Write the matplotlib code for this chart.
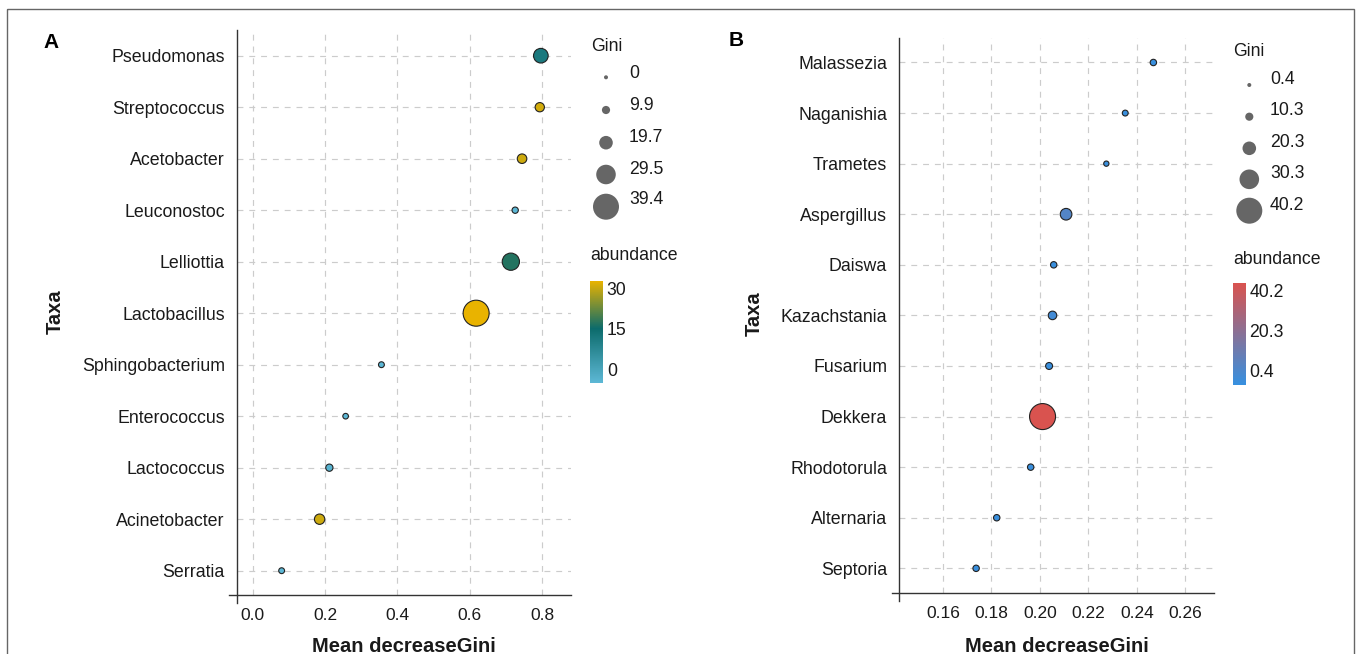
import matplotlib
matplotlib.use('Agg')
import matplotlib.pyplot as plt
import numpy as np
from matplotlib.colors import LinearSegmentedColormap, Normalize
from matplotlib.cm import ScalarMappable
from matplotlib.patches import Rectangle

plt.rcParams['font.family'] = ['Liberation Sans', 'DejaVu Sans']

W, H, DPI = 1358, 654, 100

# ---------------- data ----------------
taxa_a = ["Pseudomonas", "Streptococcus", "Acetobacter", "Leuconostoc", "Lelliottia",
          "Lactobacillus", "Sphingobacterium", "Enterococcus", "Lactococcus",
          "Acinetobacter", "Serratia"]
mdg_a = [0.797, 0.794, 0.745, 0.726, 0.714, 0.618, 0.356, 0.257, 0.212, 0.185, 0.080]
gini_a = [21.5, 12.0, 12.5, 6.0, 25.8, 39.4, 5.0, 4.5, 8.0, 14.0, 5.0]
abund_a = [11.5, 31.0, 30.5, -5.0, 17.0, 32.8, -5.0, -5.0, -4.0, 30.5, -5.0]
xticks_a = [0.0, 0.2, 0.4, 0.6, 0.8]
gini_breaks_a = [0, 9.9, 19.7, 29.5, 39.4]
abund_ticks_a = [0, 15, 30]

taxa_b = ["Malassezia", "Naganishia", "Trametes", "Aspergillus", "Daiswa",
          "Kazachstania", "Fusarium", "Dekkera", "Rhodotorula", "Alternaria", "Septoria"]
mdg_b = [0.2468, 0.2352, 0.2274, 0.2108, 0.2057, 0.2052, 0.2038, 0.2011, 0.1962, 0.1822, 0.1737]
gini_b = [6.7, 5.5, 4.1, 16.9, 6.7, 11.1, 7.9, 40.2, 6.7, 6.7, 6.7]
abund_b = [-6.0, -6.0, -6.0, 2.0, -6.0, -3.0, -6.0, 43.9, -6.0, -6.0, -6.0]
xticks_b = [0.16, 0.18, 0.20, 0.22, 0.24, 0.26]
gini_breaks_b = [0.4, 10.3, 20.3, 30.3, 40.2]
abund_ticks_b = [0.4, 20.3, 40.2]

# ---------------- styles ----------------
cmap_a = LinearSegmentedColormap.from_list(
    'a', [(0.0, '#5db8d6'), (0.535, '#0c6b6b'), (1.0, '#e9b300')])
norm_a = Normalize(-5.2, 32.8)
cmap_b = LinearSegmentedColormap.from_list('b', ['#3690e0', '#d9534f'])
norm_b = Normalize(-7.1, 43.9)

FS_TICK = 12.5
FS_CAT = 12.8
FS_LEG = 12.7
FS_TITLE = 14.5


def size_pt2(g, gmin, gmax):
    t = (np.asarray(g, float) - gmin) / (gmax - gmin)
    t = np.clip(t, 0, 1)
    d_px = 4 + 22 * t ** 1.2
    return (d_px * 72 / DPI) ** 2


fig = plt.figure(figsize=(W / DPI, H / DPI), dpi=DPI)
fig.patch.set_facecolor('white')


def px_axes(l, t, r, b):
    return fig.add_axes([l / W, 1 - b / H, (r - l) / W, (b - t) / H])


def panel(ax, taxa, xs, gini, abund, cmap, norm, xticks, xlim, ylim, gmin, gmax, fmt):
    n = len(taxa)
    ypos = np.arange(n)[::-1]
    ax.set_xlim(*xlim)
    ax.set_ylim(*ylim)
    ax.set_xticks(xticks)
    ax.set_xticklabels([fmt.format(v) for v in xticks])
    ax.set_yticks(ypos)
    ax.set_yticklabels(taxa)
    ax.grid(True, color='#cccccc', linestyle=(0, (5, 5)), linewidth=0.85)
    ax.set_axisbelow(True)
    for s in ax.spines.values():
        s.set_visible(False)
    ax.tick_params(length=0, colors='#1a1a1a')
    ax.tick_params(axis='y', pad=8.5, labelsize=FS_CAT)
    ax.tick_params(axis='x', pad=9.5, labelsize=FS_TICK)
    bb = ax.get_position()
    wpx = bb.width * W
    hpx = bb.height * H
    ax.plot([0, 0], [-8 / hpx, 1], transform=ax.transAxes, color='#333333',
            lw=1.0, clip_on=False, zorder=4)
    ax.plot([-7.5 / wpx, 1], [0, 0], transform=ax.transAxes, color='#333333',
            lw=1.0, clip_on=False, zorder=4)
    ax.scatter(xs, ypos, s=size_pt2(gini, gmin, gmax), c=abund, cmap=cmap, norm=norm,
               edgecolors='#222222', linewidths=0.8, zorder=5, clip_on=False)


axA = px_axes(236.7, 30, 570.5, 595)
panel(axA, taxa_a, mdg_a, gini_a, abund_a, cmap_a, norm_a, xticks_a,
      (-0.0443, 0.879), (-0.472, 10.499), 0, 39.4, '{:.1f}')

axB = px_axes(899, 37.5, 1214, 593)
panel(axB, taxa_b, mdg_b, gini_b, abund_b, cmap_b, norm_b, xticks_b,
      (0.1419, 0.2718), (-0.488, 10.494), 0.4, 40.2, '{:.2f}')

# overlay in pixel coordinates
ov = fig.add_axes([0, 0, 1, 1])
ov.set_xlim(0, W)
ov.set_ylim(H, 0)
ov.axis('off')
ov.patch.set_visible(False)

ov.add_patch(Rectangle((7, 9), 1347, 700, fill=False, edgecolor='#666666',
                       lw=1.0, clip_on=False))

tc = '#1a1a1a'
for lab, x, y in [('A', 51, 42), ('B', 736, 41)]:
    ov.text(x, y, lab, fontsize=15, fontweight='bold', ha='center', va='center', color='black')
for x, y in [(55, 312), (754, 314)]:
    ov.text(x, y, 'Taxa', fontsize=FS_TITLE, fontweight='bold', rotation=90,
            ha='center', va='center', color=tc)
for x in [403.6, 1056.5]:
    ov.text(x, 652.5, 'Mean decreaseGini', fontsize=FS_TITLE, fontweight='bold',
            ha='center', va='baseline', color=tc)


def size_legend(breaks, gmin, gmax, cx, cys, lx, lys, tx, ty, abx, aby):
    ov.text(tx, ty, 'Gini', fontsize=FS_LEG, ha='left', va='center', color=tc)
    ov.scatter([cx] * len(breaks), cys, s=size_pt2(breaks, gmin, gmax),
               color='#666666', edgecolors='none', clip_on=False)
    for b, ly in zip(breaks, lys):
        ov.text(lx, ly, f'{b:g}', fontsize=FS_LEG, ha='left', va='center', color=tc)
    ov.text(abx, aby, 'abundance', fontsize=FS_LEG, ha='left', va='center', color=tc)


size_legend(gini_breaks_a, 0, 39.4, 606, [77.3, 110, 142.7, 174.5, 206.7],
            629, [73.3, 105, 137.3, 169, 200], 590.7, 46.7, 590.7, 255)
size_legend(gini_breaks_b, 0.4, 40.2, 1249.3, [85, 116.7, 148.3, 179.3, 210.7],
            1270, [80, 110.7, 142.3, 174, 205], 1233.3, 51.7, 1233.3, 259.3)


def cbar(l, t, r, b, cmap, norm, ticks):
    cax = px_axes(l, t, r, b)
    cb = fig.colorbar(ScalarMappable(norm=norm, cmap=cmap), cax=cax, ticks=ticks)
    cb.outline.set_visible(False)
    cb.set_ticklabels([f'{v:g}' for v in ticks])
    cax.tick_params(length=0, labelsize=FS_LEG, pad=2.5, colors=tc)


cbar(590, 280.7, 603.3, 383.3, cmap_a, norm_a, abund_ticks_a)
cbar(1233.3, 283.3, 1246, 385, cmap_b, norm_b, abund_ticks_b)

fig.savefig('out.png', dpi=DPI)
